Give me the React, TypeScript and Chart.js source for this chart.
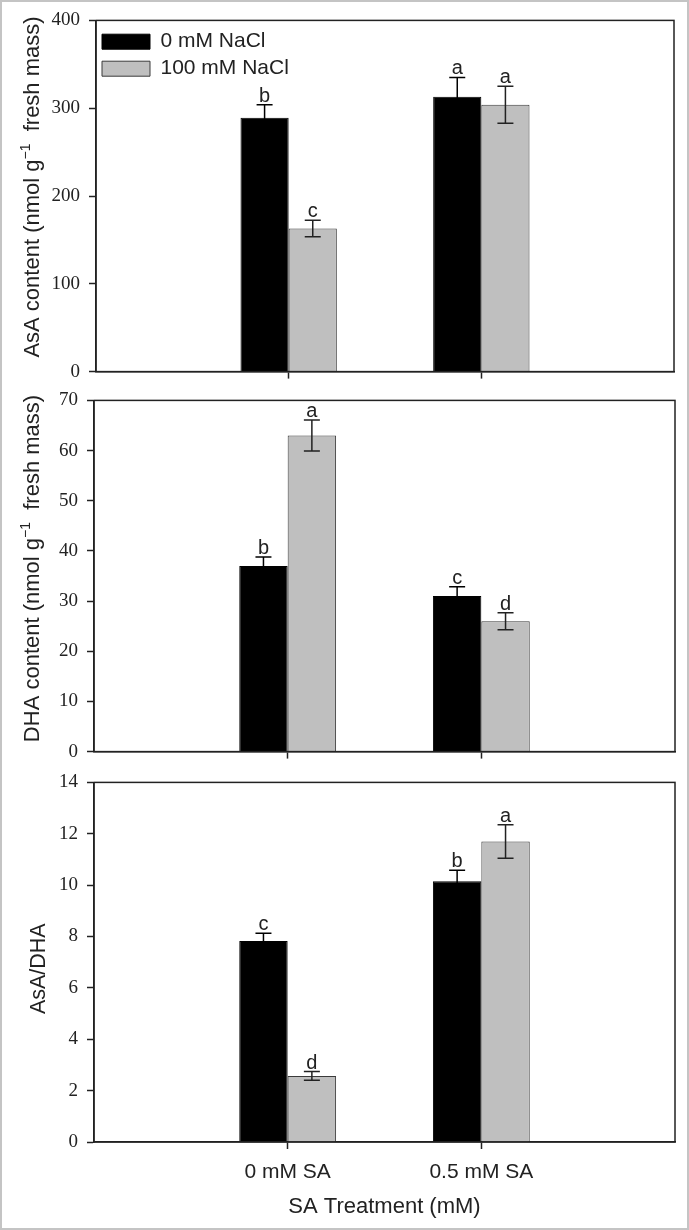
import React, { useEffect, useRef } from 'react';
import { Chart, registerables } from 'chart.js';

Chart.register(...registerables);

// ---------- data ----------
const categories = ['', '0 mM SA', '0.5 mM SA', ''];
const seriesNames = ['0 mM NaCl', '100 mM NaCl'];

// AsA content (nmol g-1 fresh mass)
const asaNaCl0 = [null, 289, 313, null];
const asaNaCl0Err = [null, 15, 22, null];
const asaNaCl0Letters = ['', 'b', 'a', ''];
const asaNaCl100 = [null, 163, 304, null];
const asaNaCl100Err = [null, 9.5, 21, null];
const asaNaCl100Letters = ['', 'c', 'a', ''];

// DHA content (nmol g-1 fresh mass)
const dhaNaCl0 = [null, 37, 31, null];
const dhaNaCl0Err = [null, 1.8, 1.85, null];
const dhaNaCl0Letters = ['', 'b', 'c', ''];
const dhaNaCl100 = [null, 63, 26, null];
const dhaNaCl100Err = [null, 3.1, 1.7, null];
const dhaNaCl100Letters = ['', 'a', 'd', ''];

// AsA/DHA
const ratioNaCl0 = [null, 7.83, 10.15, null];
const ratioNaCl0Err = [null, 0.3, 0.43, null];
const ratioNaCl0Letters = ['', 'c', 'b', ''];
const ratioNaCl100 = [null, 2.57, 11.7, null];
const ratioNaCl100Err = [null, 0.17, 0.65, null];
const ratioNaCl100Letters = ['', 'd', 'a', ''];

const xTitleText = 'SA Treatment (mM)';

// ---------- styles ----------
const SANS = '"Liberation Sans", Arial, sans-serif';
const SERIF = '"Liberation Serif", "Times New Roman", serif';
const INK = '#222222';
const BLACK = '#000000';
const GREY = '#bfbfbf';

const decorPlugin = {
  id: 'decor',
  afterDatasetsDraw(chart: any, _args: any, opts: any) {
    const { ctx, chartArea, scales } = chart;
    const ys = scales.y;
    ctx.save();
    chart.data.datasets.forEach((ds: any, di: number) => {
      const meta = chart.getDatasetMeta(di);
      meta.data.forEach((bar: any, i: number) => {
        const v = ds.data[i];
        if (v === null || v === undefined) return;
        const e = (ds.errors && ds.errors[i]) || 0;
        const x = bar.x;
        const yt = ys.getPixelForValue(v + e);
        const yb = ys.getPixelForValue(v - e);
        ctx.strokeStyle = ds.errorColor || INK;
        ctx.lineWidth = 1.5;
        ctx.beginPath();
        ctx.moveTo(x, yb);
        ctx.lineTo(x, yt);
        ctx.moveTo(x - 8, yt);
        ctx.lineTo(x + 8, yt);
        ctx.moveTo(x - 8, yb);
        ctx.lineTo(x + 8, yb);
        ctx.stroke();
        const letter = ds.letters ? ds.letters[i] : '';
        if (letter) {
          ctx.fillStyle = INK;
          ctx.font = `20px ${SANS}`;
          ctx.textAlign = 'center';
          ctx.textBaseline = 'alphabetic';
          ctx.fillText(letter, x, yt - 3);
        }
      });
    });
    ctx.strokeStyle = INK;
    ctx.lineWidth = 1.5;
    ctx.strokeRect(
      chartArea.left,
      chartArea.top,
      chartArea.right - chartArea.left,
      chartArea.bottom - chartArea.top
    );
    ctx.restore();
  },
  afterDraw(chart: any, _args: any, opts: any) {
    const { ctx, chartArea } = chart;
    ctx.save();
    ctx.fillStyle = INK;
    if (opts.yTitle) {
      const size = opts.titleSize || 22;
      const mainFont = `${size}px ${SANS}`;
      const supFont = `${Math.round(size * 0.64)}px ${SANS}`;
      const parts = opts.yTitle as { t: string; sup?: boolean }[];
      const widths = parts.map((p) => {
        ctx.font = p.sup ? supFont : mainFont;
        return ctx.measureText(p.t).width;
      });
      const total = widths.reduce((a, b) => a + b, 0);
      const cy = (chartArea.top + chartArea.bottom) / 2 + (opts.titleDy || 0);
      ctx.translate(opts.titleX, cy);
      ctx.rotate(-Math.PI / 2);
      ctx.textAlign = 'left';
      ctx.textBaseline = 'alphabetic';
      let x = -total / 2;
      parts.forEach((p, k) => {
        ctx.font = p.sup ? supFont : mainFont;
        ctx.fillText(p.t, x, p.sup ? -size * 0.42 : 0);
        x += widths[k];
      });
      ctx.setTransform(1, 0, 0, 1, 0, 0);
    }
    if (opts.xTitle) {
      ctx.font = `22px ${SANS}`;
      ctx.textAlign = 'center';
      ctx.textBaseline = 'alphabetic';
      ctx.fillText(opts.xTitle, (chartArea.left + chartArea.right) / 2, chartArea.bottom + 71);
    }
    ctx.restore();
  },
};

type PanelProps = {
  top: number;
  height: number;
  padTop: number;
  leftW: number;
  padRight: number;
  xHeight: number;
  yMax: number;
  yStep: number;
  black: (number | null)[];
  blackErr: (number | null)[];
  blackLetters: string[];
  grey: (number | null)[];
  greyErr: (number | null)[];
  greyLetters: string[];
  showLegend: boolean;
  showXLabels: boolean;
  yTitle: { t: string; sup?: boolean }[];
  titleX: number;
  titleDy: number;
  titleSize: number;
  xTitle?: string;
};

function Panel(p: PanelProps) {
  const ref = useRef<HTMLCanvasElement | null>(null);
  useEffect(() => {
    if (!ref.current) return;
    const chart = new Chart(ref.current, {
      type: 'bar',
      data: {
        labels: categories,
        datasets: [
          {
            label: seriesNames[0],
            data: p.black,
            backgroundColor: BLACK,
            borderColor: BLACK,
            borderWidth: 1,
            errors: p.blackErr,
            letters: p.blackLetters,
            errorColor: BLACK,
          } as any,
          {
            label: seriesNames[1],
            data: p.grey,
            backgroundColor: GREY,
            borderColor: '#3a3a3a',
            borderWidth: 1,
            errors: p.greyErr,
            letters: p.greyLetters,
            errorColor: INK,
          } as any,
        ],
      },
      options: {
        responsive: false,
        animation: false,
        devicePixelRatio: 1,
        layout: { padding: { top: p.padTop, right: p.padRight, left: 0, bottom: 0 } },
        datasets: { bar: { categoryPercentage: 0.5, barPercentage: 1.0 } },
        scales: {
          x: {
            type: 'category',
            offset: false,
            grid: {
              offset: false,
              drawOnChartArea: false,
              drawTicks: true,
              tickLength: 7,
              tickWidth: 1.5,
              tickColor: (c: any) => (c.index === 1 || c.index === 2 ? INK : 'rgba(0,0,0,0)'),
            },
            border: { display: true, color: INK, width: 1.5 },
            ticks: {
              display: p.showXLabels,
              autoSkip: false,
              maxRotation: 0,
              minRotation: 0,
              padding: 11,
              color: INK,
              font: { family: SANS, size: 21 },
            },
            afterFit: (s: any) => {
              s.height = p.xHeight;
            },
          },
          y: {
            min: 0,
            max: p.yMax,
            grid: {
              drawOnChartArea: false,
              drawTicks: true,
              tickLength: 7,
              tickWidth: 1.5,
              tickColor: INK,
            },
            border: { display: true, color: INK, width: 1.5 },
            ticks: {
              stepSize: p.yStep,
              padding: 9,
              color: INK,
              font: { family: SERIF, size: 19 },
            },
            afterFit: (s: any) => {
              s.width = p.leftW;
            },
          },
        },
        plugins: {
          legend: {
            display: p.showLegend,
            position: 'chartArea',
            align: 'start',
            title: { display: true, text: ' ', font: { size: 1 }, padding: { top: 0, bottom: 24 } },
            labels: {
              boxWidth: 48,
              boxHeight: 15,
              padding: 6,
              color: INK,
              font: { family: SANS, size: 21 },
            },
          },
          tooltip: { enabled: false },
          decor: {
            yTitle: p.yTitle,
            titleX: p.titleX,
            titleDy: p.titleDy,
            titleSize: p.titleSize,
            xTitle: p.xTitle,
          },
        } as any,
      } as any,
      plugins: [decorPlugin as any],
    });
    return () => chart.destroy();
  }, []);
  return (
    <canvas
      ref={ref}
      width={689}
      height={p.height}
      style={{ position: 'absolute', left: 0, top: p.top, width: 689, height: p.height }}
    />
  );
}

export default function App() {
  useEffect(() => {
    document.body.style.margin = '0';
    document.body.style.background = '#ffffff';
  }, []);
  return (
    <div style={{ position: 'relative', width: 689, height: 1230, background: '#ffffff', overflow: 'hidden' }}>
      <Panel
        top={0}
        height={392}
        padTop={19}
        leftW={96}
        padRight={15}
        xHeight={13}
        yMax={400}
        yStep={100}
        black={asaNaCl0}
        blackErr={asaNaCl0Err}
        blackLetters={asaNaCl0Letters}
        grey={asaNaCl100}
        greyErr={asaNaCl100Err}
        greyLetters={asaNaCl100Letters}
        showLegend={true}
        showXLabels={false}
        yTitle={[{ t: 'AsA content (nmol g' }, { t: '\u22121', sup: true }, { t: '  fresh mass)' }]}
        titleX={39}
        titleDy={-9}
        titleSize={22}
      />
      <Panel
        top={380}
        height={392}
        padTop={17}
        leftW={94}
        padRight={14}
        xHeight={11}
        yMax={70}
        yStep={10}
        black={dhaNaCl0}
        blackErr={dhaNaCl0Err}
        blackLetters={dhaNaCl0Letters}
        grey={dhaNaCl100}
        greyErr={dhaNaCl100Err}
        greyLetters={dhaNaCl100Letters}
        showLegend={false}
        showXLabels={false}
        yTitle={[{ t: 'DHA content (nmol g' }, { t: '\u22121', sup: true }, { t: '  fresh mass)' }]}
        titleX={39}
        titleDy={-7.5}
        titleSize={22}
      />
      <Panel
        top={762}
        height={468}
        padTop={17}
        leftW={94}
        padRight={14}
        xHeight={88}
        yMax={14}
        yStep={2}
        black={ratioNaCl0}
        blackErr={ratioNaCl0Err}
        blackLetters={ratioNaCl0Letters}
        grey={ratioNaCl100}
        greyErr={ratioNaCl100Err}
        greyLetters={ratioNaCl100Letters}
        showLegend={false}
        showXLabels={true}
        yTitle={[{ t: 'AsA/DHA' }]}
        titleX={45}
        titleDy={6.5}
        titleSize={21.5}
        xTitle={xTitleText}
      />
      <div
        style={{
          position: 'absolute',
          left: 0,
          top: 0,
          width: 689,
          height: 1230,
          border: '2px solid #c4c4c4',
          boxSizing: 'border-box',
          pointerEvents: 'none',
        }}
      />
    </div>
  );
}
